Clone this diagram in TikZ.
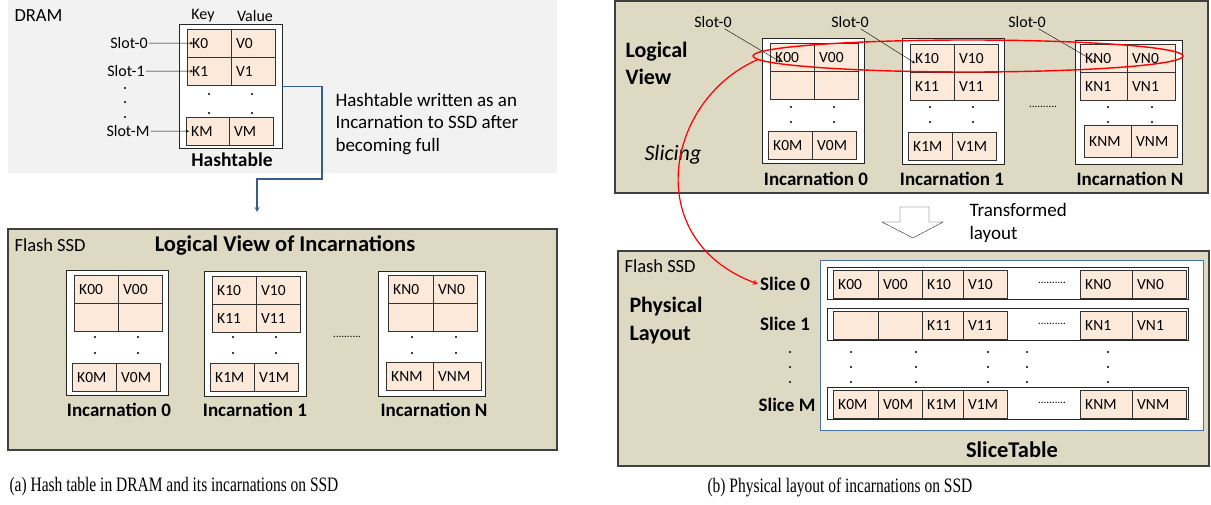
\documentclass[tikz,border=0pt]{standalone}
\usepackage{fontspec}
\setmainfont{Carlito}
\newfontfamily\capfont{Liberation Serif}
\usetikzlibrary{shapes.geometric}
\definecolor{dramgray}{HTML}{F2F2F2}
\definecolor{ssdtan}{HTML}{DDD9C3}
\definecolor{cellpeach}{HTML}{FDE9D9}
\definecolor{linkblue}{HTML}{385D8A}
\definecolor{tableblue}{HTML}{4A72A8}

\begin{document}
\begin{tikzpicture}[x=1pt,y=-1pt,>=stealth,
    every node/.style={font=\fontsize{15.5}{18}\selectfont},
    cell/.style={draw=black!80, fill=cellpeach, anchor=north west, minimum height=28pt,
        inner xsep=5pt, inner ysep=0pt, text width=#1, align=left},
    cell/.default=34pt,
    ibox/.style={draw=black!85, fill=white, anchor=north west, minimum width=102pt,
        minimum height=125pt, inner sep=0pt},
    rowframe/.style={draw=black!85, fill=white, anchor=north west, minimum width=361pt,
        minimum height=32pt, inner sep=0pt},
    area/.style={draw=black!75, line width=1.5pt, fill=ssdtan},
    lbl/.style={font=\fontsize{19}{22}\selectfont\bfseries, inner sep=2pt},
    slotlbl/.style={inner sep=1pt, font=\fontsize{16}{19}\selectfont},
    plain/.style={anchor=west, font=\fontsize{18.5}{22}\selectfont},
    hdots/.style={font=\fontsize{11}{13}\selectfont}]
    \useasboundingbox (0,0) rectangle (1211,505);

    % (a) hash table in DRAM
    \fill[dramgray] (8,0) rectangle (557,173);
    \node[plain] (dram) at (11,16) {DRAM};
    \node[font=\fontsize{16}{19}\selectfont] (keyhead) at (203,16) {Key};
    \node[font=\fontsize{16}{19}\selectfont] (valhead) at (255,16) {Value};
    \node[ibox, minimum width=103pt, minimum height=124pt] (htable) at (179,24) {};
    \node[cell] (k0) at (187,29) {K0};
    \node[cell] (v0) at (231,29) {V0};
    \node[cell] (k1) at (187,57) {K1};
    \node[cell] (v1) at (231,57) {V1};
    \node[cell=33pt] (km) at (186,117) {KM};
    \node[cell] (vm) at (229,117) {VM};
    \foreach \x in {209,252} \foreach \y in {94,113} \fill (\x,\y) circle[radius=1.1pt];
    \node[slotlbl] (slot0) at (129,43) {Slot-0};
    \node[slotlbl] (slot1) at (126,71) {Slot-1};
    \node[slotlbl] (slotm) at (128,131) {Slot-M};
    \foreach \y in {88,102,117} \fill (125,\y) circle[radius=1.1pt];
    \draw[->] (slot0) -- ([xshift=6pt]k0.west);
    \draw[->] (slot1) -- ([xshift=6pt]k1.west);
    \draw[->] (slotm) -- ([xshift=3pt]km.west);
    \node[lbl, font=\fontsize{19.5}{22}\selectfont\bfseries] (htlabel) at (232,160) {Hashtable};
    \coordinate (drop) at (257,212);
    \draw[linkblue, line width=1.2pt, ->] (htable.east) -| (322,179) -| (drop);
    \node[anchor=west, align=left, font=\fontsize{19}{22.5}\selectfont] (note) at (332,124)
        {Hashtable written as an\\Incarnation to SSD after\\becoming full};

    % (a) incarnations on flash
    \draw[area] (8,229) rectangle (557,450);
    \node[plain] (flashl) at (11,245) {Flash SSD};
    \node[font=\fontsize{22.5}{26}\selectfont\bfseries] (viewtitle) at (285,245) {Logical View of Incarnations};

    \node[ibox] (linc0) at (66,270) {};
    \node[cell] (lk00) at (74,275) {K00};
    \node[cell] (lv00) at (118,275) {V00};
    \node[cell] (lk01) at (74,303) {};
    \node[cell] (lv01) at (118,303) {};
    \node[cell] (lk0m) at (72,363) {K0M};
    \node[cell] (lv0m) at (116,363) {V0M};
    \node[lbl] (linc0lbl) at (119,410) {Incarnation 0};

    \node[ibox] (linc1) at (204,271) {};
    \node[cell] (lk10) at (212,276) {K10};
    \node[cell] (lv10) at (256,276) {V10};
    \node[cell] (lk11) at (212,304) {K11};
    \node[cell] (lv11) at (256,304) {V11};
    \node[cell] (lk1m) at (210,363) {K1M};
    \node[cell] (lv1m) at (254,363) {V1M};
    \node[lbl] (linc1lbl) at (255,410) {Incarnation 1};

    \node[hdots] (ldots) at (347,337) {..........};

    \node[ibox, minimum width=107pt] (lincn) at (378,271) {};
    \node[cell=35pt] (lkn0) at (388,275) {KN0};
    \node[cell] (lvn0) at (433,275) {VN0};
    \node[cell=35pt] (lkn1) at (388,303) {};
    \node[cell] (lvn1) at (433,303) {};
    \node[cell=37pt] (lknm) at (386,362) {KNM};
    \node[cell=38pt] (lvnm) at (433,362) {VNM};
    \node[lbl] (lincnlbl) at (434,410) {Incarnation N};

    \foreach \x in {95,138,233,276,412,456} \foreach \y in {337,353} \fill (\x,\y) circle[radius=1.1pt];

    % (b) logical view
    \draw[area] (615,1) rectangle (1208,193);
    \node[anchor=west, align=left, font=\fontsize{22}{27}\selectfont\bfseries] (logview) at (622,63) {Logical\\View};
    \node[anchor=west, font=\fontsize{22}{26}\selectfont\itshape] (slicing) at (641,155) {Slicing};

    \node[ibox] (rinc0) at (762,38) {};
    \node[cell] (rk00) at (770,43) {K00};
    \node[cell] (rv00) at (814,43) {V00};
    \node[cell] (rk01) at (770,71) {};
    \node[cell] (rv01) at (814,71) {};
    \node[cell] (rk0m) at (768,131) {K0M};
    \node[cell] (rv0m) at (812,131) {V0M};
    \node[lbl] (rinc0lbl) at (816,179) {Incarnation 0};

    \node[ibox, minimum height=126pt] (rinc1) at (902,38) {};
    \node[cell] (rk10) at (910,44) {K10};
    \node[cell] (rv10) at (954,44) {V10};
    \node[cell] (rk11) at (910,72) {K11};
    \node[cell] (rv11) at (954,72) {V11};
    \node[cell] (rk1m) at (908,132) {K1M};
    \node[cell] (rv1m) at (952,132) {V1M};
    \node[lbl] (rinc1lbl) at (952,179) {Incarnation 1};

    \node[hdots] (rdots) at (1043,107) {..........};

    \node[ibox, minimum width=107pt, minimum height=124pt] (rincn) at (1075,40) {};
    \node[cell=37pt] (rkn0) at (1080,44) {KN0};
    \node[cell=38pt] (rvn0) at (1127,44) {VN0};
    \node[cell=37pt] (rkn1) at (1080,72) {KN1};
    \node[cell=38pt] (rvn1) at (1127,72) {VN1};
    \node[cell=37pt, minimum height=32pt] (rknm) at (1084,125) {KNM};
    \node[cell=36pt, minimum height=32pt] (rvnm) at (1131,125) {VNM};
    \node[lbl] (rincnlbl) at (1130,179) {Incarnation N};

    \foreach \x in {791,834,930,973,1108,1152} \foreach \y in {107,122} \fill (\x,\y) circle[radius=1.1pt];

    \node[slotlbl] (rslot0) at (713,22) {Slot-0};
    \node[slotlbl] (rslot1) at (850,22) {Slot-0};
    \node[slotlbl] (rslotn) at (1027,22) {Slot-0};
    \draw[->] (rslot0) -- ([xshift=11pt,yshift=-5pt]rk00.west);
    \draw[->] (rslot1) -- ([xshift=5pt,yshift=-5pt]rk10.west);
    \draw[->] (rslotn) -- ([xshift=16pt,yshift=-4pt]rkn0.west);

    % transform arrow
    \draw[black!85, fill=white] (900,207) -- (929,207) -- (929,222) -- (943,222) -- (913,238)
        -- (882,222) -- (900,222) -- cycle;
    \node[anchor=west, align=left, font=\fontsize{19}{23}\selectfont] (translbl) at (966,223) {Transformed\\layout};

    % (b) physical layout
    \draw[area] (618,251) rectangle (1209,466);
    \node[plain] (flashr) at (621,266) {Flash SSD};
    \node[anchor=west, align=left, font=\fontsize{22}{28}\selectfont\bfseries] (physlay) at (626,321) {Physical\\Layout};
    \node[draw=tableblue, line width=1.2pt, fill=white, anchor=north west, minimum width=383pt,
        minimum height=170pt, inner sep=0pt] (slicetable) at (820,260) {};
    \node[lbl] (slice0) at (785,284) {Slice 0};
    \node[lbl] (slice1) at (785,324) {Slice 1};
    \node[lbl] (slicem) at (787,405) {Slice M};
    \node[font=\fontsize{22.5}{26}\selectfont\bfseries] (stlabel) at (1012,450) {SliceTable};

    \node[rowframe] (row0) at (827,267) {};
    \node[cell=35pt] (sk00) at (833,270) {K00};
    \node[cell] (sv00) at (878,270) {V00};
    \node[cell=31pt] (sk10) at (922,270) {K10};
    \node[cell] (sv10) at (963,270) {V10};
    \node[hdots] (sdots0) at (1052,283) {..........};
    \node[cell=42pt] (skn0) at (1080,270) {KN0};
    \node[cell=44pt] (svn0) at (1132,270) {VN0};

    \node[rowframe] (row1) at (827,308) {};
    \node[cell=35pt] (sk01) at (833,311) {};
    \node[cell] (sv01) at (878,311) {};
    \node[cell=31pt] (sk11) at (922,311) {K11};
    \node[cell] (sv11) at (963,311) {V11};
    \node[hdots] (sdots1) at (1052,324) {..........};
    \node[cell=42pt] (skn1) at (1080,311) {KN1};
    \node[cell=44pt] (svn1) at (1132,311) {VN1};

    \node[rowframe] (rowm) at (827,387) {};
    \node[cell=35pt] (sk0m) at (833,390) {K0M};
    \node[cell] (sv0m) at (878,390) {V0M};
    \node[cell=31pt] (sk1m) at (922,390) {K1M};
    \node[cell] (sv1m) at (963,390) {V1M};
    \node[hdots] (sdotsm) at (1052,403) {..........};
    \node[cell=42pt] (sknm) at (1080,390) {KNM};
    \node[cell=44pt] (svnm) at (1132,390) {VNM};

    \foreach \x in {790,851,916,988,1027,1108} \foreach \y in {352,367,382} \fill (\x,\y) circle[radius=1.1pt];

    % slot 0 of every incarnation goes to slice 0
    \node[ellipse, draw=red, line width=1.4pt, minimum width=430pt, minimum height=32pt, inner sep=0pt] (slotring) at (968,56) {};
    \draw[red, line width=1.2pt, ->] (slotring.181) .. controls (665,100) and (640,240) .. (slice0.west);

    \node[anchor=west, font=\capfont\fontsize{20.5}{24}\selectfont] (capa) at (6,487)
        {\scalebox{0.755}[1]{(a) Hash table in DRAM and its incarnations on SSD}};
    \node[anchor=west, font=\capfont\fontsize{20.5}{24}\selectfont] (capb) at (704,487)
        {\scalebox{0.755}[1]{(b) Physical layout of incarnations on SSD}};
\end{tikzpicture}
\end{document}
